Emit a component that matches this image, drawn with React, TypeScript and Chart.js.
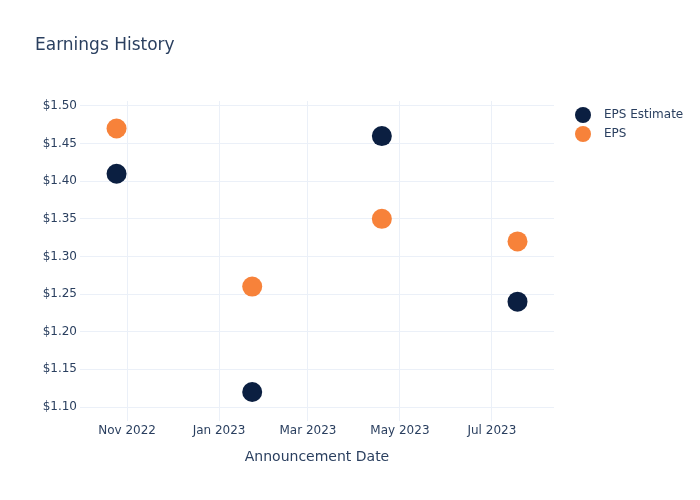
import React, { useEffect, useRef } from "react";
import { Chart, registerables } from "chart.js";

Chart.register(...registerables);

const announcementDates = ["2022-10-25", "2023-01-23", "2023-04-19", "2023-07-18"];
const epsEstimate = [1.41, 1.12, 1.46, 1.24];
const epsActual = [1.47, 1.26, 1.35, 1.32];
const seriesNames = ["EPS Estimate", "EPS"];
const seriesColors = ["#0b1f41", "#f7823a"];
const xTickDates = ["2022-11-01", "2023-01-01", "2023-03-01", "2023-05-01", "2023-07-01"];
const xTickLabels = ["Nov 2022", "Jan 2023", "Mar 2023", "May 2023", "Jul 2023"];
const yTickValues = [1.1, 1.15, 1.2, 1.25, 1.3, 1.35, 1.4, 1.45, 1.5];
const xRange = ["2022-09-30T18:00:00Z", "2023-08-11T05:00:00Z"];
const yRange = [1.0814, 1.5066];
const chartTitle = "Earnings History";
const xAxisTitle = "Announcement Date";

const FONT = "'DejaVu Sans', sans-serif";
const TEXT = "#2a3f5f";
const GRID = "#ebf0f8";

const ts = (s: string) => new Date(s.length === 10 ? s + "T00:00:00Z" : s).getTime();

export default function App() {
  const ref = useRef<HTMLCanvasElement | null>(null);

  useEffect(() => {
    document.body.style.margin = "0";
    const canvas = ref.current;
    if (!canvas) return;

    const overlay = {
      id: "overlay",
      afterDraw(chart: any) {
        const ctx = chart.ctx;
        const area = chart.chartArea;
        ctx.save();
        ctx.fillStyle = TEXT;
        ctx.textBaseline = "middle";
        ctx.textAlign = "left";
        ctx.font = `17px ${FONT}`;
        ctx.fillText(chartTitle, 35, 46);
        ctx.font = `14px ${FONT}`;
        ctx.textAlign = "center";
        ctx.fillText(xAxisTitle, (area.left + area.right) / 2, 457);
        ctx.font = `12px ${FONT}`;
        ctx.textAlign = "left";
        seriesNames.forEach((name, i) => {
          const y = 115 + i * 19;
          ctx.beginPath();
          ctx.fillStyle = seriesColors[i];
          ctx.arc(583, y, 8, 0, Math.PI * 2);
          ctx.fill();
          ctx.fillStyle = TEXT;
          ctx.fillText(name, 604, y);
        });
        ctx.restore();
      },
    };

    const chart = new Chart(canvas, {
      type: "scatter",
      data: {
        datasets: [
          {
            label: seriesNames[0],
            data: announcementDates.map((d, i) => ({ x: ts(d), y: epsEstimate[i] })),
            backgroundColor: seriesColors[0],
            borderColor: seriesColors[0],
            pointRadius: 10,
            borderWidth: 0,
          },
          {
            label: seriesNames[1],
            data: announcementDates.map((d, i) => ({ x: ts(d), y: epsActual[i] })),
            backgroundColor: seriesColors[1],
            borderColor: seriesColors[1],
            pointRadius: 10,
            borderWidth: 0,
          },
        ],
      },
      plugins: [overlay],
      options: {
        responsive: false,
        animation: false,
        layout: { padding: { left: 0, top: 101, right: 146, bottom: 0 } },
        plugins: {
          legend: { display: false },
          title: { display: false },
          tooltip: { enabled: false },
        },
        scales: {
          x: {
            type: "linear",
            min: ts(xRange[0]),
            max: ts(xRange[1]),
            border: { display: false },
            grid: { color: GRID, drawTicks: false, lineWidth: 1 },
            afterBuildTicks: (scale: any) => {
              scale.ticks = xTickDates.map((d) => ({ value: ts(d) }));
            },
            afterFit: (scale: any) => {
              scale.height = 79;
            },
            ticks: {
              padding: 3,
              color: TEXT,
              font: { family: FONT, size: 12 },
              maxRotation: 0,
              autoSkip: false,
              callback: (value: any) => {
                const idx = xTickDates.findIndex((d) => ts(d) === value);
                return idx >= 0 ? xTickLabels[idx] : "";
              },
            },
          },
          y: {
            type: "linear",
            min: yRange[0],
            max: yRange[1],
            border: { display: false },
            grid: { color: GRID, drawTicks: false, lineWidth: 1 },
            afterBuildTicks: (scale: any) => {
              scale.ticks = yTickValues.map((v) => ({ value: v }));
            },
            afterFit: (scale: any) => {
              scale.width = 80;
            },
            ticks: {
              padding: 3,
              color: TEXT,
              font: { family: FONT, size: 12 },
              autoSkip: false,
              callback: (value: any) => "$" + Number(value).toFixed(2),
            },
          },
        },
      },
    } as any);

    return () => chart.destroy();
  }, []);

  return (
    <div style={{ width: 700, height: 500, background: "#fff" }}>
      <canvas ref={ref} width={700} height={500} style={{ display: "block" }} />
    </div>
  );
}
